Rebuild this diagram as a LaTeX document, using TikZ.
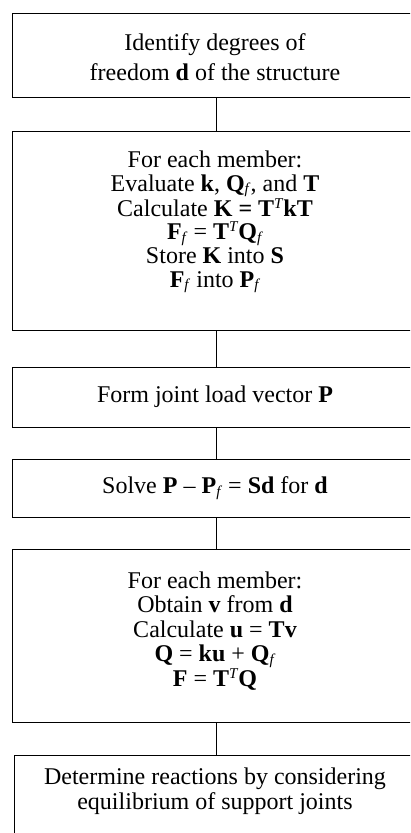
\documentclass[tikz,border=0pt]{standalone}
\usepackage{fontspec}
\setmainfont{Liberation Serif}
\newcommand\B[1]{\textbf{#1}}
\newcommand\subf{\raisebox{-0.25ex}{\fontsize{15}{15}\selectfont\textit{f}}}
\newcommand\supT{\raisebox{0.75ex}{\fontsize{15}{15}\selectfont\textit{T}}}
\begin{document}
\begin{tikzpicture}[x=1pt,y=1pt,
  box/.style={draw, line width=1.1pt, rectangle, minimum width=408pt, inner sep=0pt, anchor=north west},
  txt/.style={align=center, inner sep=0pt, font=\fontsize{24}{24}\selectfont},
  link/.style={line width=1.7pt}]
\useasboundingbox (0,0) rectangle (410,-833);
\clip (0,0) rectangle (410,-833);
\node[box, minimum height=84pt]  (b1) at (12,-13) {};
\node[box, minimum height=199pt] (b2) at (12,-131) {};
\node[box, minimum height=60pt]  (b3) at (12,-367) {};
\node[box, minimum height=58pt]  (b4) at (12,-459) {};
\node[box, minimum height=173pt] (b5) at (12,-549) {};
\node[box, minimum height=110pt] (b6) at (14,-755) {};
\node[txt, font=\fontsize{24}{30}\selectfont] (t1) at (215,-57) {Identify degrees of\\freedom \B{d} of the structure};
\node[txt, font=\fontsize{24}{23.6}\selectfont] (t2) at (215,-222) {For each member:\\Evaluate \B{k}, \B{Q}\subf, and \B{T}\\Calculate \B{K = T}\supT\B{kT}\\\B{F}\subf\ = \B{T}\supT\B{Q}\subf\\Store \B{K} into \B{S}\\\B{F}\subf\ into \B{P}\subf};
\node[txt] (t3) at (215,-397) {Form joint load vector \B{P}};
\node[txt] (t4) at (215,-488) {Solve \B{P} -- \B{P}\subf\ = \B{Sd} for \B{d}};
\node[txt, font=\fontsize{24}{24.5}\selectfont] (t5) at (215,-631) {For each member:\\Obtain \B{v} from \B{d}\\Calculate \B{u} = \B{Tv}\\\B{Q} = \B{ku} + \B{Q}\subf\\\B{F} = \B{T}\supT\B{Q}};
\node[txt, font=\fontsize{24}{25}\selectfont] (t6) at (215,-791) {Determine reactions by considering\\equilibrium of support joints};
\draw[link] (b1.south) -- (b2.north);
\draw[link] (b2.south) -- (b3.north);
\draw[link] (b3.south) -- (b4.north);
\draw[link] (b4.south) -- (b5.north);
\draw[link] (b5.south) -- (b5.south |- b6.north);
\end{tikzpicture}
\end{document}
